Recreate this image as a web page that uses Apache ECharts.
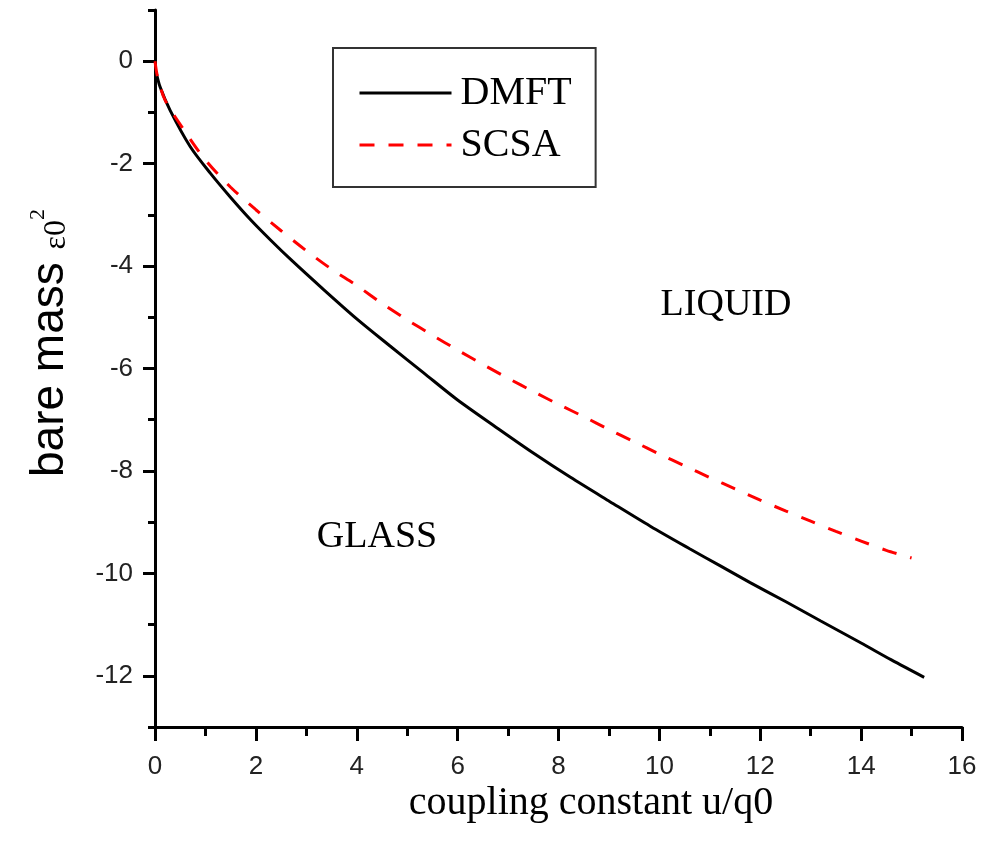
<!DOCTYPE html>
<html>
<head>
<meta charset="utf-8">
<script src="https://cdn.jsdelivr.net/npm/echarts@6/dist/echarts.min.js"></script>
<style>html,body{margin:0;padding:0;background:#fff;}#c{width:981px;height:841px;}</style>
</head>
<body>
<div id="c"></div>
<script>
var dmftX = [0.02, 0.1, 0.3, 0.7, 1.1, 1.5, 1.9, 2.3, 2.7, 3.3, 4.0, 4.66, 5.32, 5.98, 6.84, 7.5, 8.23, 9.02, 9.82, 10.6, 11.2, 11.8, 12.5, 13.2, 14.0, 14.6, 15.25];
var dmftY = [-0.2, -0.5, -0.96, -1.67, -2.19, -2.66, -3.1, -3.5, -3.88, -4.42, -5.03, -5.56, -6.08, -6.6, -7.2, -7.65, -8.12, -8.6, -9.08, -9.52, -9.85, -10.18, -10.55, -10.93, -11.36, -11.69, -12.03];
var scsaX = [0, 0.05, 0.2, 0.6, 1, 1.5, 2, 2.5, 3, 3.5, 4, 4.5, 5, 5.5, 6, 6.5, 7, 7.5, 8, 8.5, 9, 9.5, 10, 10.5, 11, 11.5, 12, 12.5, 13, 13.5, 14, 14.5, 15];
var scsaY = [0, -0.3, -0.76, -1.38, -1.93, -2.46, -2.9, -3.31, -3.7, -4.06, -4.38, -4.73, -5.05, -5.35, -5.64, -5.92, -6.19, -6.45, -6.7, -6.94, -7.19, -7.43, -7.67, -7.9, -8.13, -8.35, -8.57, -8.78, -8.98, -9.18, -9.37, -9.55, -9.7];
var xMajorTicks = [0, 2, 4, 6, 8, 10, 12, 14, 16];
var yMajorTicks = [0, -2, -4, -6, -8, -10, -12];
var seriesNames = ['DMFT', 'SCSA'];

function pairs(xs, ys) { return xs.map(function (x, i) { return [x, ys[i]]; }); }

var sans = "'Liberation Sans',Arial,sans-serif";
var serif = "'Liberation Serif','Times New Roman',serif";
var axisLineStyle = { color: '#000', width: 3 };

var chart = echarts.init(document.getElementById('c'), null, { renderer: 'canvas' });
chart.setOption({
  animation: false,
  backgroundColor: '#fff',
  grid: { left: 155, right: 19, top: 10, bottom: 114, containLabel: false },
  legend: {
    data: seriesNames,
    orient: 'vertical',
    left: 333, top: 48,
    borderColor: '#333', borderWidth: 2,
    padding: [25, 24, 22, 25],
    itemWidth: 92, itemHeight: 30, itemGap: 12,
    itemStyle: { opacity: 0 },
    lineStyle: { width: 3 },
    textStyle: { fontFamily: serif, fontSize: 40, color: '#000', padding: [0, 0, 0, 4] }
  },
  xAxis: [
    {
      type: 'value', min: 0, max: 16, interval: 1, position: 'bottom',
      axisLine: { show: true, onZero: false, lineStyle: axisLineStyle },
      axisTick: { show: true, length: 9, lineStyle: { color: '#000', width: 3 } },
      axisLabel: { show: false },
      splitLine: { show: false }
    },
    {
      type: 'value', min: 0, max: 16, interval: 2, position: 'bottom',
      axisLine: { show: false, onZero: false },
      axisTick: { show: true, length: 14, customValues: xMajorTicks, lineStyle: { color: '#000', width: 3 } },
      axisLabel: { show: true, margin: 27, customValues: xMajorTicks, fontFamily: sans, fontSize: 26, color: '#222' },
      splitLine: { show: false }
    }
  ],
  yAxis: [
    {
      type: 'value', min: -13, max: 1, interval: 1, position: 'left',
      axisLine: { show: true, onZero: false, lineStyle: axisLineStyle },
      axisTick: { show: true, length: 7, lineStyle: { color: '#000', width: 3 } },
      axisLabel: { show: false },
      splitLine: { show: false }
    },
    {
      type: 'value', min: -13, max: 1, interval: 1, position: 'left',
      axisLine: { show: false, onZero: false },
      axisTick: { show: true, length: 12, customValues: yMajorTicks, lineStyle: { color: '#000', width: 3 } },
      axisLabel: { show: true, margin: 22, customValues: yMajorTicks, fontFamily: sans, fontSize: 26, color: '#222' },
      splitLine: { show: false }
    }
  ],
  graphic: [
    {
      type: 'text', x: 50, y: 343, rotation: Math.PI / 2,
      style: {
        text: '{a|bare mass }{b|ε0}{c|2}',
        align: 'center', verticalAlign: 'middle',
        rich: {
          a: { fontFamily: sans, fontSize: 46, fill: '#000' },
          b: { fontFamily: serif, fontSize: 32, fill: '#000', verticalAlign: 'bottom' },
          c: { fontFamily: serif, fontSize: 22, fill: '#000', verticalAlign: 'top', padding: [0, 0, 20, 0] }
        }
      }
    },
    {
      type: 'text', x: 591, y: 803,
      style: { text: 'coupling constant u/q0', fontFamily: serif, fontSize: 40, fill: '#000', align: 'center', verticalAlign: 'middle' }
    },
    {
      type: 'text', x: 726, y: 305,
      style: { text: 'LIQUID', fontFamily: serif, fontSize: 38, fill: '#000', align: 'center', verticalAlign: 'middle' }
    },
    {
      type: 'text', x: 377, y: 537,
      style: { text: 'GLASS', fontFamily: serif, fontSize: 38, fill: '#000', align: 'center', verticalAlign: 'middle' }
    }
  ],
  series: [
    {
      name: seriesNames[0], type: 'line', xAxisIndex: 0, yAxisIndex: 0,
      data: pairs(dmftX, dmftY), symbol: 'none', smooth: 0.3,
      lineStyle: { color: '#000', width: 3 }, itemStyle: { color: '#000' }
    },
    {
      name: seriesNames[1], type: 'line', xAxisIndex: 0, yAxisIndex: 0,
      data: pairs(scsaX, scsaY), symbol: 'none', smooth: 0.3,
      lineStyle: { color: '#ff0000', width: 3, type: [15, 14] }, itemStyle: { color: '#ff0000' }
    }
  ]
});
</script>
</body>
</html>
